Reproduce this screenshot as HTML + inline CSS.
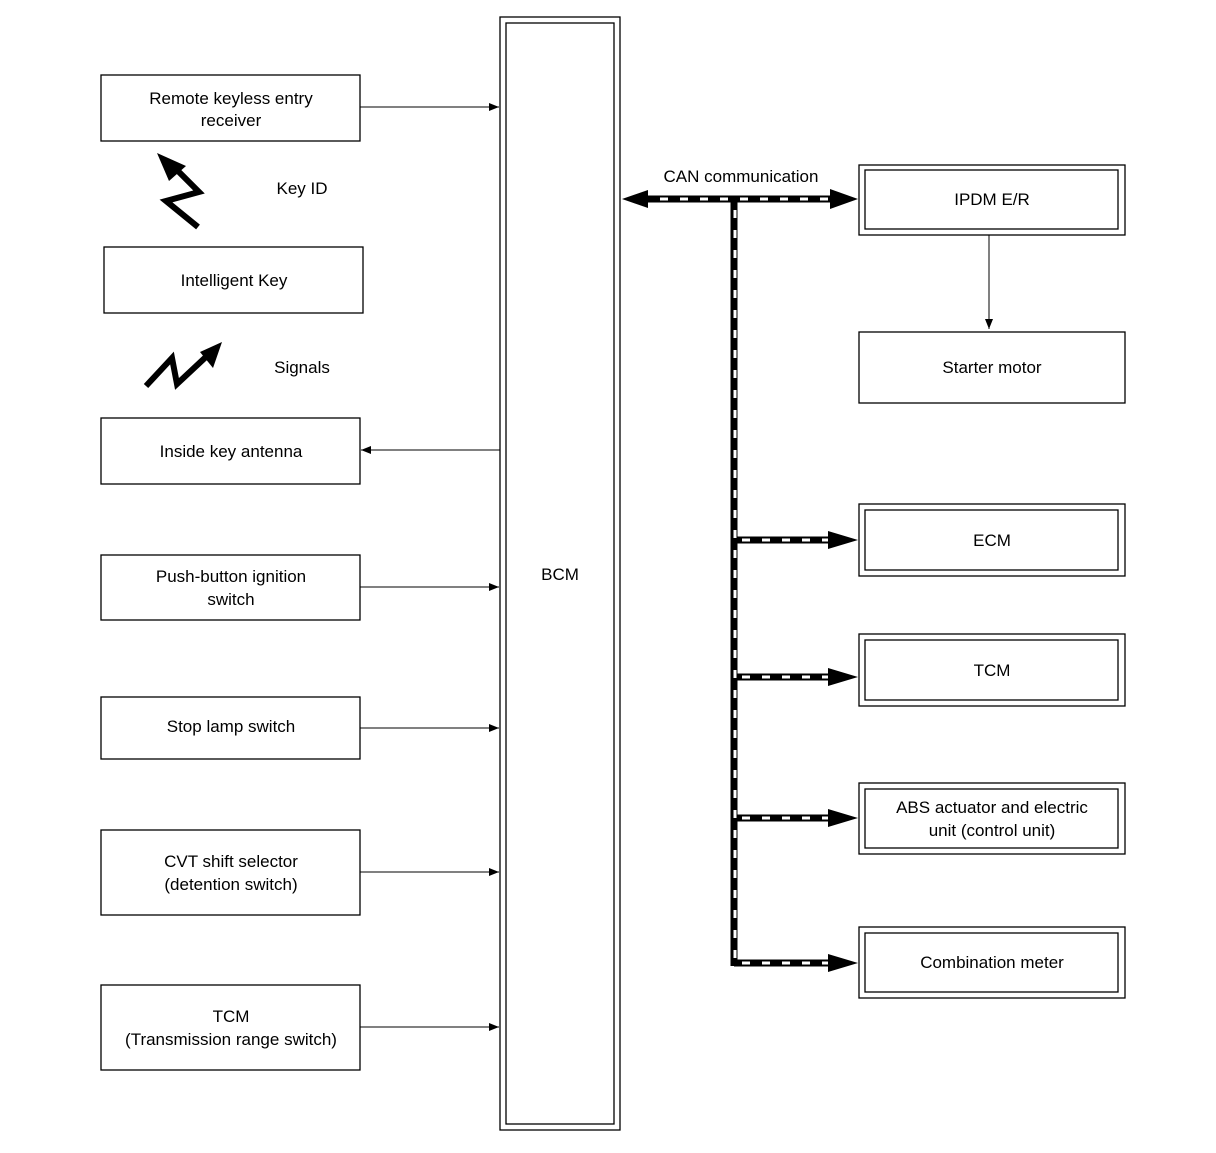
<!DOCTYPE html>
<html><head><meta charset="utf-8"><style>
html,body{margin:0;padding:0;background:#fff;}
svg text{font-family:"Liberation Sans",sans-serif;font-size:17px;fill:#000;text-anchor:middle;}
</style></head><body>
<svg width="1216" height="1148" viewBox="0 0 1216 1148" xmlns="http://www.w3.org/2000/svg">
<defs>
<marker id="a" markerWidth="10" markerHeight="8" refX="10" refY="4" orient="auto" markerUnits="userSpaceOnUse"><path d="M0,0 L10,4 L0,8z" fill="#000"/></marker>
</defs>
<g fill="none" stroke="#000" stroke-width="1.3">
<rect x="500" y="17" width="120" height="1113"/>
<rect x="506" y="23" width="108" height="1101"/>
<rect x="101" y="75" width="259" height="66"/>
<rect x="104" y="247" width="259" height="66"/>
<rect x="101" y="418" width="259" height="66"/>
<rect x="101" y="555" width="259" height="65"/>
<rect x="101" y="697" width="259" height="62"/>
<rect x="101" y="830" width="259" height="85"/>
<rect x="101" y="985" width="259" height="85"/>
<rect x="859" y="165" width="266" height="70"/><rect x="865" y="170" width="253" height="59"/>
<rect x="859" y="332" width="266" height="71"/>
<rect x="859" y="504" width="266" height="72"/><rect x="865" y="510" width="253" height="60"/>
<rect x="859" y="634" width="266" height="72"/><rect x="865" y="640" width="253" height="60"/>
<rect x="859" y="783" width="266" height="71"/><rect x="865" y="789" width="253" height="59"/>
<rect x="859" y="927" width="266" height="71"/><rect x="865" y="933" width="253" height="59"/>
<g stroke-width="1">
<line x1="360" y1="107" x2="499" y2="107" marker-end="url(#a)"/>
<line x1="500" y1="450" x2="361" y2="450" marker-end="url(#a)"/>
<line x1="360" y1="587" x2="499" y2="587" marker-end="url(#a)"/>
<line x1="360" y1="728" x2="499" y2="728" marker-end="url(#a)"/>
<line x1="360" y1="872" x2="499" y2="872" marker-end="url(#a)"/>
<line x1="360" y1="1027" x2="499" y2="1027" marker-end="url(#a)"/>
<line x1="989" y1="235" x2="989" y2="329" marker-end="url(#a)"/>
</g>
</g>
<!-- CAN bus -->
<g stroke="#000" stroke-width="7" fill="none">
<line x1="640" y1="199" x2="832" y2="199"/>
<line x1="734" y1="199" x2="734" y2="966"/>
<line x1="734" y1="540" x2="832" y2="540"/>
<line x1="734" y1="677" x2="832" y2="677"/>
<line x1="734" y1="818" x2="832" y2="818"/>
<line x1="734" y1="963" x2="832" y2="963"/>
</g>
<g stroke="#fff" stroke-width="3" stroke-dasharray="8,12" fill="none">
<line x1="660" y1="199" x2="832" y2="199"/>
<line x1="735" y1="210" x2="735" y2="960"/>
<line x1="742" y1="540" x2="830" y2="540"/>
<line x1="742" y1="677" x2="830" y2="677"/>
<line x1="742" y1="818" x2="830" y2="818"/>
<line x1="742" y1="963" x2="830" y2="963"/>
</g>
<g fill="#000">
<path d="M622,199 L648,190 L648,208z"/>
<path d="M858,199 L830,189 L830,209z"/>
<path d="M858,540 L828,531 L828,549z"/>
<path d="M858,677 L828,668 L828,686z"/>
<path d="M858,818 L828,809 L828,827z"/>
<path d="M858,963 L828,954 L828,972z"/>
</g>
<!-- zigzags -->
<g stroke="#000" stroke-width="6" fill="none" stroke-linejoin="miter">
<path d="M198,227 L166,201 L199,192 L175,168"/>
<path d="M146,386 L172,358 L177,384 L208,355"/>
</g>
<g fill="#000">
<path d="M157,153 L186,166 L169,181z"/>
<path d="M222,342 L213,368 L200,352z"/>
</g>
<text x="231" y="104">Remote keyless entry</text>
<text x="231" y="126">receiver</text>
<text x="302" y="194">Key ID</text>
<text x="234" y="286">Intelligent Key</text>
<text x="302" y="373">Signals</text>
<text x="231" y="457">Inside key antenna</text>
<text x="231" y="582">Push-button ignition</text>
<text x="231" y="605">switch</text>
<text x="231" y="732">Stop lamp switch</text>
<text x="231" y="867">CVT shift selector</text>
<text x="231" y="890">(detention switch)</text>
<text x="231" y="1022">TCM</text>
<text x="231" y="1045">(Transmission range switch)</text>
<text x="560" y="580">BCM</text>
<text x="741" y="182">CAN communication</text>
<text x="992" y="205">IPDM E/R</text>
<text x="992" y="373">Starter motor</text>
<text x="992" y="546">ECM</text>
<text x="992" y="676">TCM</text>
<text x="992" y="813">ABS actuator and electric</text>
<text x="992" y="836">unit (control unit)</text>
<text x="992" y="968">Combination meter</text>
</svg>
</body></html>
